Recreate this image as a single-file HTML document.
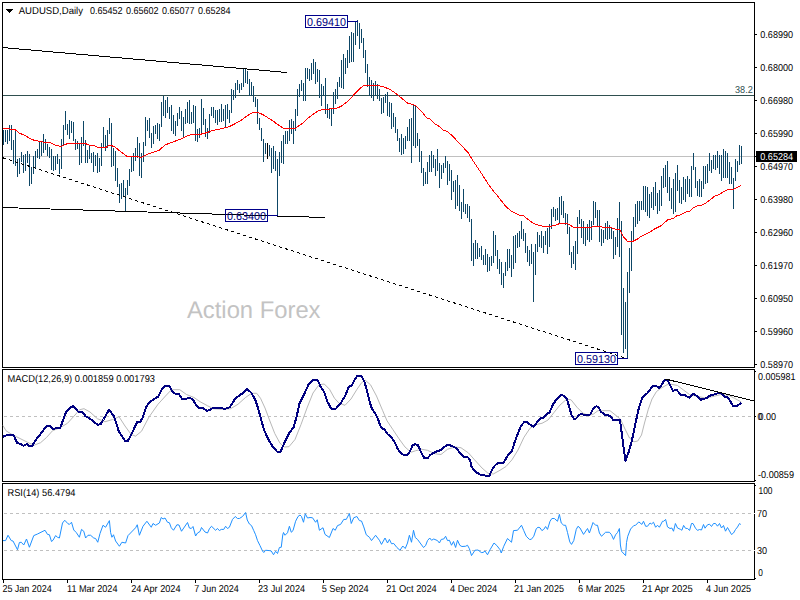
<!DOCTYPE html><html><head><meta charset="utf-8"><title>AUDUSD Daily</title>
<style>html,body{margin:0;padding:0;background:#fff}svg{display:block}text{font-family:"Liberation Sans",sans-serif;text-rendering:geometricPrecision}</style></head><body>
<svg width="800" height="600" viewBox="0 0 800 600">
<rect width="800" height="600" fill="#fff"/>
<text x="187" y="318" font-size="24" fill="#c3c3c3" text-anchor="start" textLength="133.5" lengthAdjust="spacingAndGlyphs">Action Forex</text>
<g shape-rendering="crispEdges" fill="none">
<path d="M3,156.5H754" stroke="#c0c0c0"/>
<path d="M3,95.5H754" stroke="#2f4f4f"/>
</g>
<text x="735" y="93" font-size="10" fill="#2f4f4f" text-anchor="start" textLength="17.8" lengthAdjust="spacingAndGlyphs">38.2</text>
<path d="M267.5,143V158.75" stroke="#000" stroke-width="1" fill="none" shape-rendering="crispEdges"/>
<path d="M3.5,130V144.5M5.5,130V142M7.5,129.5V143.75M9.5,125V141M11.5,125V150M13.5,140V163.75M15.5,130.6V165.6M17.5,158.75V177M19.5,158V173.75M21.5,152V162M23.5,155V173M25.5,154V170.6M27.5,151V162.5M29.5,154V185.6M31.5,167V183.75M33.5,156V173.75M35.5,151V168.75M37.5,149.4V157.5M39.5,140.6V159.4M41.5,141V155.6M43.5,134V152.5M45.5,139V150M47.5,143.75V156M49.5,147V157.5M51.5,149V170M53.5,156V170.6M55.5,155.6V169.75M57.5,154V163.75M59.5,158.75V173.75M61.5,139V168.75M63.5,125V146M65.5,111V130M67.5,124V135M69.5,120V138.75M71.5,121V132.5M73.5,122V141M75.5,139V150M77.5,141V149.4M79.5,144.4V164.75M81.5,137V162.5M83.5,121V146M85.5,140V162.5M87.5,150V162.5M89.5,146V159.4M91.5,153V162.5M93.5,152V172M95.5,155V165.6M97.5,153V172.5M99.5,158V172M101.5,143V165.6M103.5,127V147M105.5,135V150.6M107.5,130V147.5M109.5,118V133.75M111.5,123V167M113.5,148V165.6M115.5,151V180.6M117.5,168V187M119.5,183.75V202.5M121.5,183V199.4M123.5,180V197M125.5,188V211M127.5,180V195M129.5,169.4V185.6M131.5,157V172M133.5,153V170.6M135.5,148V160.6M137.5,137V158M139.5,143V175.6M141.5,153V177.5M143.5,142V161.5M145.5,117V145.6M147.5,120V131M149.5,118V137.5M151.5,133V147.5M153.5,126V144.4M155.5,125V134.4M157.5,123V138.75M159.5,123.75V140.6M161.5,102V127M163.5,95.6V115.6M165.5,100V117.5M167.5,97V113M169.5,107V118.75M171.5,105V130.6M173.5,115V134.4M175.5,121V135.6M177.5,113V126M179.5,107V119.4M181.5,111V130.6M183.5,117V137M185.5,108.75V124.4M187.5,102V123M189.5,100V123.75M191.5,112V124.4M193.5,105V123M195.5,106V140.6M197.5,129.4V141.5M199.5,128V137.5M201.5,99.4V134.4M203.5,108V125M205.5,119.4V137M207.5,127.5V138.75M209.5,114V133M211.5,107V115.6M213.5,107V118M215.5,110V122.5M217.5,110V124.75M219.5,109.4V121.9M221.5,104V121.9M223.5,109V121.25M225.5,105V127.5M227.5,104V118.75M229.5,110V123M231.5,89V112.5M233.5,90V100M235.5,83V97.5M237.5,80V90M239.5,84.4V93M241.5,83V90M243.5,68.5V87M245.5,68V83M247.5,70.6V83.75M249.5,79V95.6M251.5,82V95.6M253.5,86V102M255.5,97V107M257.5,99.4V123.75M259.5,118V130M261.5,127.5V140.6M263.5,139.4V162M265.5,143V154.4M269.5,145V156.25M271.5,147.5V172.5M273.5,146V169.4M275.5,150.6V170.6M277.5,159.4V215.5M279.5,152V175.6M281.5,141V162.5M283.5,135V163.75M285.5,131V144.4M287.5,131V144.4M289.5,120V140.6M291.5,119V134.4M293.5,121V143.75M295.5,109V130.6M297.5,89V115.6M299.5,84V97M301.5,80V90.6M303.5,83V101M305.5,68V100.6M307.5,68V78.75M309.5,68.75V80.6M311.5,63V80M313.5,59V73.75M315.5,62V83.75M317.5,69V82M319.5,70V97.5M321.5,84.4V105.6M323.5,86V96M325.5,78V113.75M327.5,104.4V117.5M329.5,108V119.4M331.5,108V126M333.5,92V114.4M335.5,89.4V103.75M337.5,82V99.4M339.5,77V87M341.5,60V87.5M343.5,54.4V88.75M345.5,58V73.75M347.5,50V67.5M349.5,36V62.5M351.5,32V62M353.5,33V62M355.5,22V45M357.5,20V35.6M359.5,23V49.4M361.5,29.4V42.5M363.5,38V57.5M365.5,50V72.5M367.5,64V87M369.5,77V95.6M371.5,80V97.5M373.5,83V100.6M375.5,81V95.6M377.5,84V99.4M379.5,88.75V101.25M381.5,98V114.4M383.5,97V113M385.5,93.75V102.5M387.5,92V115.6M389.5,102V117M391.5,103V128.75M393.5,113V127M395.5,117V132.5M397.5,129.4V140.6M399.5,138V152M401.5,133.75V155M403.5,138V153.75M405.5,136V148.75M407.5,127V141M409.5,119V140.6M411.5,118V162.5M413.5,104V145.6M415.5,106V148M417.5,133V145.6M419.5,139V162M421.5,151V172.5M423.5,167.5V185.6M425.5,172V184.4M427.5,162V183.75M429.5,155V171.5M431.5,151V171.5M433.5,155V168M435.5,158.75V175.6M437.5,149V170.6M439.5,163V187.5M441.5,165V179.4M443.5,163V173M445.5,156V167.5M447.5,161V184.75M449.5,164V180.6M451.5,170V199.75M453.5,181V191.5M455.5,180V208.5M457.5,175V205.6M459.5,185V210.6M461.5,202V219.4M463.5,189V211.9M465.5,204V214.4M467.5,204V217.5M469.5,206V221.9M471.5,219.4V260.6M473.5,243V265.6M475.5,240V259.4M477.5,243V258.75M479.5,248V257M481.5,246V259.75M483.5,255V264.75M485.5,249V265M487.5,254V271.9M489.5,257V270.6M491.5,255.6V265.6M493.5,231V262.5M495.5,235V255.6M497.5,250V268.75M499.5,258.75V273.75M501.5,262V284.75M503.5,273V287.5M505.5,262V275.6M507.5,249V270.6M509.5,249V267.5M511.5,255V276.9M513.5,236V268.75M515.5,235V262.5M517.5,233V247.75M519.5,231V246.5M521.5,221V238.5M523.5,229V240.6M525.5,233V252.5M527.5,246V261.9M529.5,250V265.6M531.5,244V263.5M533.5,252V301.5M535.5,244V274.75M537.5,232V252M539.5,235V246.9M541.5,231V248M543.5,236V252.5M545.5,231V245M547.5,228V253.75M549.5,224V246.9M551.5,209V228.75M553.5,207V216.9M555.5,209V220.6M557.5,208V220M559.5,197V223M561.5,196V215M563.5,201V217.5M565.5,213V225M567.5,214V233.75M569.5,227V254.75M571.5,252V267.75M573.5,246V263.5M575.5,241V269.75M577.5,217V253.75M579.5,210V224.4M581.5,219V237.5M583.5,221V243.75M585.5,227V245.6M587.5,224V240M589.5,220V241.9M591.5,221V240M593.5,201V225M595.5,202V217.5M597.5,210V225.6M599.5,210V241.9M601.5,229V245.6M603.5,230V242.5M605.5,223V238.75M607.5,221V239.75M609.5,225V239M611.5,227V238.5M613.5,231V258.75M615.5,237V254.75M617.5,218V246.9M619.5,202V256.9M621.5,221V334.8M623.5,288V352.5M625.5,302V348.7M627.5,272V358M629.5,247.75V292.8M631.5,231V270.8M633.5,217V240M635.5,204V226.9M637.5,201V224.4M639.5,201V220.6M641.5,201V209.75M643.5,186V209.75M645.5,186V211.9M647.5,187V215.6M649.5,194V217.75M651.5,192V207.5M653.5,187V209.75M655.5,182V206M657.5,193V213.75M659.5,190V210.6M661.5,176V206.25M663.5,168V187.5M665.5,165V186.9M667.5,161V192.5M669.5,177V200.6M671.5,188V208.75M673.5,179V213.75M675.5,173V211.5M677.5,165V191.25M679.5,180V202.5M681.5,187V203.75M683.5,177V199.75M685.5,179V201.5M687.5,176V193.75M689.5,179V196.5M691.5,166V196.5M693.5,153V170M695.5,167V187.5M697.5,181V195.6M699.5,179V196.5M701.5,181V196.9M703.5,166V188.5M705.5,166V183.75M707.5,164V182.5M709.5,153V170.6M711.5,160V172.75M713.5,155V169M715.5,155V170M717.5,151V167.5M719.5,155V173.75M721.5,155V180.6M723.5,149V177.5M725.5,151V177.5M727.5,153V177.5M729.5,162V183.75M731.5,167V183.7M733.5,178V208.6M735.5,159V180.6M737.5,161V171.7M739.5,145V164.6M741.5,146V163.7" stroke="#0d4666" stroke-width="1" fill="none" shape-rendering="crispEdges"/>
<polyline points="3.5,128.5 15,129.4 18.75,132.75 25,135.6 32.5,139.75 38.75,141.25 43.75,142.25 50,142.5 55,145 61.25,146.5 65,144.4 68.75,143.4 75,143.4 85,143.5 90,145.25 93.75,145.25 97.5,147.25 100,147.5 105.6,147.5 109.4,145.25 114.4,146.5 120,151.25 126.9,156.25 137.5,156.5 141.25,157.5 146.25,154.75 152.5,152.5 158.75,150.6 165,145 171.25,142.5 180,139.4 187.5,135.6 193,134.4 200,134.4 205.6,133 212.5,130.6 221.25,128.75 228.75,126.9 235,123.75 242.5,119.4 247.5,115.6 252.5,112.5 258,112.5 262.5,114.4 267.5,117.5 272.5,120.6 277.5,124.4 283,128 287.5,128.75 295,128.5 300,125 303,123 308.75,117.5 313.75,113.75 317.5,111.25 322.5,109.4 330,109 336.25,108.5 341.25,106.25 346.25,102.5 352.5,96.25 358,90.6 362.5,86.25 365,85.25 376.25,85.25 383.75,86.9 390,89.4 396.25,93.75 400,96.9 407.5,103 415.6,105.6 421.9,111.9 426.9,118 430,119 435,124 440,126.9 443,130 446.9,131.25 451.25,134.75 456.25,140 461.25,145 465,149.4 468.75,153.5 471.5,158.5 477.5,167.5 482.5,175 487.5,183 492.5,190 496.9,195 500,199 505,205.6 511.25,211.25 518.75,215 523.75,216 528.75,220 533.75,223.75 542.5,226.25 550,226.5 555,225.25 561.25,223 567.5,223.5 573.75,227.5 590,227.5 595,226.25 600,226.5 603.75,227.5 611.25,227.5 613.75,228.75 620,229.75 623,236.25 627.5,241.25 633,241.25 637.5,239 641.25,236.25 650,231.9 655,228.75 661.25,225.6 667.5,220 673.75,218 676.9,215.6 680,215 686.25,211.9 690,211 693,208 698,205.5 701.25,205.25 705,203.5 710,200 714,196.6 720,194 723.5,191.6 728.7,189.4 734,189 741,185.4" stroke="#ff0000" stroke-width="1" fill="none" shape-rendering="crispEdges"/>
<g shape-rendering="crispEdges" fill="none" stroke="#000">
<path d="M2,47.5L287,72.5"/>
<path d="M2,207.5L325,217.5"/>
<path d="M2,157.5L627,358.5" stroke-dasharray="3.15 3.15" stroke-dashoffset="-1.05"/>
</g>
<g shape-rendering="crispEdges"><rect x="305.5" y="15.5" width="42" height="12" fill="none" stroke="#00008b"/>
<path d="M348,21.5H358" stroke="#00008b"/></g>
<text x="307" y="25.6" font-size="11.4" fill="#000080" text-anchor="start" textLength="39" lengthAdjust="spacingAndGlyphs">0.69410</text>
<g shape-rendering="crispEdges"><rect x="225.5" y="209.5" width="42" height="12" fill="none" stroke="#00008b"/>
<path d="M268,215.5H278" stroke="#00008b"/></g>
<text x="227" y="219.6" font-size="11.4" fill="#000080" text-anchor="start" textLength="39" lengthAdjust="spacingAndGlyphs">0.63400</text>
<g shape-rendering="crispEdges"><rect x="575.5" y="352.5" width="42" height="12" fill="none" stroke="#00008b"/>
<path d="M618,358.5H628" stroke="#00008b"/></g>
<text x="577" y="362.6" font-size="11.4" fill="#000080" text-anchor="start" textLength="39" lengthAdjust="spacingAndGlyphs">0.59130</text>
<g shape-rendering="crispEdges" fill="none" stroke="#000">
<rect x="2.5" y="2.5" width="752" height="365"/><rect x="2.5" y="369.5" width="752" height="112"/><rect x="2.5" y="483.5" width="752" height="96"/>
<path d="M755,34.5h2M755,67.5h2M755,100.5h2M755,133.5h2M755,166.5h2M755,199.5h2M755,232.5h2M755,265.5h2M755,298.5h2M755,331.5h2M755,364.5h2M755,371.5h1M755,416.5h1M755,480.5h1M755,485.5h1M755,578.5h1M755,156.5h1M3.5,580v3M67.5,580v3M131.5,580v3M195.5,580v3M259.5,580v3M323.5,580v3M387.5,580v3M451.5,580v3M515.5,580v3M579.5,580v3M643.5,580v3M707.5,580v3"/>
</g>
<path d="M6,9h7l-3.5,4z" fill="#000" shape-rendering="crispEdges"/>
<text x="18.7" y="14" font-size="10" fill="#000" text-anchor="start" textLength="64.3" lengthAdjust="spacingAndGlyphs">AUDUSD,Daily</text>
<text x="90" y="14" font-size="10" fill="#000" text-anchor="start" textLength="32.6" lengthAdjust="spacingAndGlyphs">0.65452</text>
<text x="126" y="14" font-size="10" fill="#000" text-anchor="start" textLength="32.6" lengthAdjust="spacingAndGlyphs">0.65602</text>
<text x="162" y="14" font-size="10" fill="#000" text-anchor="start" textLength="32.6" lengthAdjust="spacingAndGlyphs">0.65077</text>
<text x="198" y="14" font-size="10" fill="#000" text-anchor="start" textLength="32.6" lengthAdjust="spacingAndGlyphs">0.65284</text>
<text x="760.3" y="38" font-size="10" fill="#000" text-anchor="start" textLength="32.8" lengthAdjust="spacingAndGlyphs">0.68990</text>
<text x="760.3" y="71" font-size="10" fill="#000" text-anchor="start" textLength="32.8" lengthAdjust="spacingAndGlyphs">0.68000</text>
<text x="760.3" y="104" font-size="10" fill="#000" text-anchor="start" textLength="32.8" lengthAdjust="spacingAndGlyphs">0.66980</text>
<text x="760.3" y="137" font-size="10" fill="#000" text-anchor="start" textLength="32.8" lengthAdjust="spacingAndGlyphs">0.65990</text>
<text x="760.3" y="170" font-size="10" fill="#000" text-anchor="start" textLength="32.8" lengthAdjust="spacingAndGlyphs">0.64970</text>
<text x="760.3" y="203" font-size="10" fill="#000" text-anchor="start" textLength="32.8" lengthAdjust="spacingAndGlyphs">0.63980</text>
<text x="760.3" y="236" font-size="10" fill="#000" text-anchor="start" textLength="32.8" lengthAdjust="spacingAndGlyphs">0.62960</text>
<text x="760.3" y="269" font-size="10" fill="#000" text-anchor="start" textLength="32.8" lengthAdjust="spacingAndGlyphs">0.61970</text>
<text x="760.3" y="302" font-size="10" fill="#000" text-anchor="start" textLength="32.8" lengthAdjust="spacingAndGlyphs">0.60950</text>
<text x="760.3" y="335" font-size="10" fill="#000" text-anchor="start" textLength="32.8" lengthAdjust="spacingAndGlyphs">0.59960</text>
<text x="760.3" y="368" font-size="10" fill="#000" text-anchor="start" textLength="32.8" lengthAdjust="spacingAndGlyphs">0.58970</text>
<rect x="756" y="151" width="41" height="11" fill="#000" shape-rendering="crispEdges"/>
<text x="760.3" y="160" font-size="10" fill="#fff" text-anchor="start" textLength="32.8" lengthAdjust="spacingAndGlyphs">0.65284</text>
<path d="M4,416.5H754" stroke="#c0c0c0" stroke-dasharray="3 3" shape-rendering="crispEdges"/>
<polyline points="3,425.5 6,430.75 12,434.5 21,439 30,443.5 34.5,445 40.5,442.75 46.5,437.5 52.5,430.75 60,427.75 67.5,423.25 75,415 79.5,409.75 84,408.7 90,412 97.5,418.75 105,421.75 112.5,419.5 119,416.7 125,426 131,434.25 135.5,436.2 141.5,431.25 149,417 158,404.25 165.5,396 171.5,389.7 179.75,389.7 186.5,394.5 194,397.5 200,401.7 207.5,405.75 213.5,408.75 221,409.2 230.5,408.75 238,404.25 245.5,397.5 251.5,393.3 256.75,393.3 260.5,398.25 265,408 269.5,420 274.75,433.5 280,443.25 284.5,447 289,446.7 295,439.5 301,424.5 307,408 313,393 319,384.75 324.25,384 329.5,389.25 334.5,398.25 339,403.2 345,405.3 351,399 357,389.25 361.5,382.8 365.25,380.25 370.5,384.75 376.5,396 382.5,410.25 387,420.75 393,429.75 399,438.75 405,447 411,452.25 415.5,450.75 421.5,449.25 427.5,450.3 435,453.75 441,454.5 447.5,449.25 455,447 461,447.75 468.5,453 474.5,459.75 482,468 488,473.25 493.25,474 500,470.25 506,466.5 512,459.75 518,450 524,437.25 530,428.25 536,424.5 542,423.3 548,420 554,412.5 560,405 566.5,399.3 571,399.75 577,407.25 583,413.25 589,415.5 593.5,414 598,410.7 610,410.7 616,415.5 620.5,419.25 625,429 629.5,438 634,441.75 637.75,441 641.5,435 644.5,423 648.25,409.5 652,399 656.5,391.5 661,388.2 667,384.75 670,384 677.5,385.5 683.5,390 689.5,394.5 697,396.3 704.5,397.8 712,396.75 721,394.5 728.5,395.25 734.5,398.25 741.25,402" stroke="#b8b8b8" stroke-width="1" fill="none"/>
<polyline points="3,436.75 8.25,434.5 13.5,434.8 17.25,443.2 21,443.8 23.25,445.75 27,444 30,446.5 32.25,445.75 37.5,437.5 42,432.25 45.75,426.7 49.5,425.8 53.25,429 57,428 60,428.5 63,420.25 66,412 69.75,408.25 73,406 78.75,412.3 82.5,412 85.5,416.2 90,418.75 97.5,424.75 100.5,424.3 103.5,419.5 109,409.75 114,416.5 117,425.5 119,432 125,440.7 128,440.7 132.5,432 137,422.25 140,422.25 143,417 146,407.25 149,402.75 153.5,399.3 158,396.75 161.75,389.7 165.5,385.5 169.25,385.5 172.25,391.5 175.25,393.75 179,394.2 182,398.7 186.5,398.7 188,397.8 192.5,399 197,406.5 200,408.5 203,408 206.75,410.7 209.75,410.25 212.75,408 219.5,408 225.25,408.75 229.75,407.25 235,399 239.5,395.25 243.25,393 247,388.8 251.5,393 255.25,399.75 258.25,408.75 261.25,420 264.25,430.5 268,438.75 272.5,446.25 277,451.5 280.75,451.5 284.5,442.5 289,433.5 293.5,427.5 296.5,417 299.5,403.5 304,394.5 308.5,384.75 313,379.8 317.5,379.8 320.5,386.25 324.25,392.25 327.25,401.25 331,408.5 336,408.5 340.5,403.5 345,396 348.75,387 351.75,385.5 354.75,379.5 357,376.2 361.5,376.2 364.5,381.75 367.5,393 371.25,407.25 375,413.25 378,419.25 381,427.5 384.75,429.75 387.75,434.25 390.75,436.5 394.5,441.75 397.5,448.5 401.25,453.75 404.25,455.25 407.25,455.25 410.25,450.75 412.5,445.5 414.75,444.3 417.75,444.75 421.5,453 424.5,458.25 427.5,458.25 430.5,454.8 435,452.25 438,450.75 441,450.3 443,447.75 446.75,445.2 450.5,445.5 454.25,447 457.25,449.25 460.25,453.75 464,456.75 467.75,457.2 470,459.75 471.5,466.5 474.5,471 479.75,474.5 485,475.5 489.5,475.5 491.75,470.25 494.75,465.75 497.75,463 503,463.5 507.5,456 512,450.75 514.25,443.25 517.25,435 521,426 524,422.25 527,422.25 530,424.5 533.75,426.75 537.5,421.5 540.5,418.5 543.5,417.5 546.5,414 549.5,412.5 553,404.5 556.75,399 560.5,395.25 564.25,395.7 567.25,399.75 569.5,408 571.75,415.5 574,418.8 576.25,418.5 579.25,414.75 581.5,414 586,415.5 590.5,414.3 593.5,408 596.5,406.2 598.75,407.25 601,411.75 604.75,414.75 610,415.8 613,419.7 619,419.7 620,420 622.75,441 625.5,461 629,451 632,440 635.5,423 638.5,409.5 642.25,397.5 647.5,393 652.75,386.25 656.5,386.25 659.5,388.2 664.75,379.8 667.75,380.25 670.75,386.25 673,390.75 676.75,390 680.5,394.5 685,395.25 689.5,397.8 693.25,393.75 696.25,395.7 700.75,399.75 703.75,398.7 706.75,398.25 709.75,395.7 715,394.2 718.75,393 721.75,393.75 724.75,396.75 727.75,397.5 730.75,402 733,405.75 737.5,405.75 741.25,402.75" stroke="#000080" stroke-width="2" fill="none" stroke-linejoin="round" shape-rendering="crispEdges"/>
<path d="M665.5,379L754,401" stroke="#000" shape-rendering="crispEdges"/>
<text x="7.5" y="382" font-size="10" fill="#000" text-anchor="start" textLength="147.5" lengthAdjust="spacingAndGlyphs">MACD(12,26,9) 0.001859 0.001793</text>
<text x="758" y="380" font-size="10" fill="#000" text-anchor="start" textLength="37.5" lengthAdjust="spacingAndGlyphs">0.005981</text>
<text x="758.4" y="420" font-size="10" fill="#000" text-anchor="start" textLength="17.6" lengthAdjust="spacingAndGlyphs">0.00</text>
<text x="757.4" y="420" font-size="10" fill="#000" text-anchor="start" textLength="4.6" lengthAdjust="spacingAndGlyphs">0</text>
<text x="758" y="478" font-size="10" fill="#000" text-anchor="start" textLength="36" lengthAdjust="spacingAndGlyphs">-0.00859</text>
<path d="M4,513.5H752M4,550.5H752" stroke="#c0c0c0" stroke-dasharray="3 3" shape-rendering="crispEdges" fill="none"/>
<path d="M754,513.5h1M754,550.5h1" stroke="#e8e8e8" shape-rendering="crispEdges" fill="none"/>
<polyline points="3,540.6 5.6,540.6 8,535.25 11.25,540.6 13,541 17.5,549.75 19.4,542.5 21.25,542.25 23.75,545 26.5,539 29.4,547.25 33.75,535.6 37.5,534 45,530.25 47.5,534.4 49.4,534.75 51.5,541.5 53,540.25 55.6,535.6 57.5,537.25 59.4,538 62.5,523 64.75,520.25 68,523.75 69.4,524.4 71.5,522.25 73.75,530 76.25,532.5 79.4,537.25 81.5,529.4 83.75,531.25 85.6,538 88,535.25 90.6,535.25 93.75,538 95.6,538.5 97.75,542.25 100,533.5 103,525.25 105.6,527.25 109.4,520.6 110.6,532.5 111.9,537.25 113.5,534.75 115.6,541 119.4,546.25 121.9,542.25 125.6,543 128,535.6 135.6,527.75 137.25,524.75 139.4,535.25 143,526.25 146.9,521.25 151.25,527.25 153,523.5 155.6,525.25 159.4,523 161.25,517.5 163,519 165,518 167.5,522.25 169.4,522.75 171.25,527.75 173.5,530.25 176.9,524.75 179,525 181.5,531.25 187.5,522.5 189.4,528 191.25,528.5 193,526.5 195.6,536 197.5,533 200,531.5 201.5,527.5 205,532 207.5,533 209.4,528.75 211.5,526.25 215.6,530.25 217.5,528.5 219.4,530.6 221.25,529.4 223.75,529.4 225.6,526.25 227.5,528.5 229.4,527.25 232.5,519.4 235.25,516.5 237.5,518.5 239.4,518.5 242.5,516.5 245.6,512.5 247.25,520 249.4,524 251.5,525.6 253.75,530.6 255.6,534.75 257.5,540.6 260,545.6 262.5,551 263.75,552.5 265.6,550.25 269.4,550.6 271.25,551 273.5,554.75 275.6,551.25 277.5,553.5 279.4,547.5 281.25,547.25 282.75,535 283.5,532.5 285,535.25 287.5,532.75 289.4,526.25 291.25,532.25 293,530.6 295.6,521.25 298,516.5 300,515 301.5,516.5 303.5,522.25 305.25,513.75 307.5,518 310,517.5 312.5,517.75 315.6,522.25 317.25,519.75 319.4,530.25 323,527.75 325,534.4 329.4,537.5 333,528.5 335.25,530.25 337.5,525.6 340.6,524.4 343.75,519.4 346.25,519.4 349.4,513.5 351.25,523.5 353.75,517.75 356.9,516.5 359.4,520.6 361.5,521 363.75,526.9 366.25,534.75 369.4,537.25 371.5,540.6 375.6,535.25 379.4,540.25 381.5,544.4 385,538 387.5,543 389.4,539.4 391.5,543.75 393.75,543.5 396.9,547.5 400,550.3 402.75,546 405.25,548.5 407.5,543 409.4,535.25 411.5,542.25 413.5,530.25 415.25,537.5 417.5,539.4 423.5,547.5 425.6,545.6 427.5,540.6 429.75,538 431.5,540.25 433.75,539 437.5,540.6 439.4,543 441.25,539.4 443.75,539 445.6,536.25 447.5,540.6 449.4,540.25 451.5,545.25 453.5,541.5 455.6,547.5 457.5,540.25 459.75,545.25 461.9,546.5 465.6,546.25 467.5,545.25 469.4,548.75 471.5,555.6 475,550.25 478,550 481.25,552.5 483,552.5 485,551 487.5,554.75 490,549.75 494,543 496.9,545.6 500,549.7 501.25,553 503.75,546.25 507.5,538.5 511.5,542.25 513.5,530.6 517.5,530.25 521.5,525.25 523.75,530.6 526.25,536.25 529.4,539.4 531.25,539.4 533.75,536.25 536.25,528.75 538,527.25 540,527.75 541.9,530.6 543.75,529.4 545.6,526.5 547.5,529.4 550,521.25 551.9,518.5 554.4,518.5 557.5,521.25 559.4,514.4 561.25,523 563.75,525.25 565.6,525.25 567.5,532.5 569.75,541.9 571.5,544.4 573.75,540.6 576.25,529.4 578,526.25 580,528 583.5,534.4 587.5,528.5 589.4,533 593,522.5 595.6,525.25 597.5,525.25 599.4,533 601.5,536.25 605.6,532.25 609.4,532.25 611.5,534.75 613.5,539.4 615.6,534.75 617.5,532.5 619.4,528.5 620.4,545 621.5,551.25 625.6,555.6 626.5,542.5 627.75,536.25 630.6,529 633.75,525.6 635.6,525.25 638.75,521.9 641.9,524.4 643.5,521.25 645.6,526.25 647.5,526.25 650,523 651.5,524 653.5,522.25 655.6,527.25 657.5,525.25 659.4,527.25 662.5,521.25 663.75,521.25 665.6,519.4 667.5,526.9 670,528.5 671.9,528 673.5,531.25 675.4,523.5 677.5,528 680.6,529.4 681.9,530.25 683.6,525.4 685.5,528.3 687.5,528.5 689.6,530.4 691.5,523.5 693,523.5 695.5,528.2 697.5,530.4 699.5,529.5 701.5,530 703.5,524.5 705,528.2 707.5,524.8 709.5,524.2 711.5,526.5 713.5,523.5 715.5,523.5 717.5,526.2 719.5,523.5 721.5,528 723.5,525.5 725.5,531.2 727.5,527.5 729.5,531 731.5,534.5 733.5,533 735.5,529.5 737.5,527 739.5,523.5 740.8,524.5" stroke="#1e90ff" stroke-width="1" fill="none"/>
<text x="7.5" y="496" font-size="10" fill="#000" text-anchor="start" textLength="68" lengthAdjust="spacingAndGlyphs">RSI(14) 56.4794</text>
<text x="758.5" y="494" font-size="10" fill="#000" text-anchor="start" textLength="14" lengthAdjust="spacingAndGlyphs">100</text>
<text x="756.9" y="517" font-size="10" fill="#000" text-anchor="start" textLength="10.1" lengthAdjust="spacingAndGlyphs">70</text>
<text x="756.9" y="554" font-size="10" fill="#000" text-anchor="start" textLength="10.1" lengthAdjust="spacingAndGlyphs">30</text>
<text x="758.3" y="576" font-size="10" fill="#000" text-anchor="start" textLength="4.6" lengthAdjust="spacingAndGlyphs">0</text>
<text x="2.4" y="592" font-size="10" fill="#000" text-anchor="start" textLength="49.4" lengthAdjust="spacingAndGlyphs">25 Jan 2024</text>
<text x="67" y="592" font-size="10" fill="#000" text-anchor="start" textLength="50.5" lengthAdjust="spacingAndGlyphs">11 Mar 2024</text>
<text x="131.2" y="592" font-size="10" fill="#000" text-anchor="start" textLength="49.3" lengthAdjust="spacingAndGlyphs">24 Apr 2024</text>
<text x="194.3" y="592" font-size="10" fill="#000" text-anchor="start" textLength="44.6" lengthAdjust="spacingAndGlyphs">7 Jun 2024</text>
<text x="258" y="592" font-size="10" fill="#000" text-anchor="start" textLength="47" lengthAdjust="spacingAndGlyphs">23 Jul 2024</text>
<text x="321.7" y="592" font-size="10" fill="#000" text-anchor="start" textLength="47" lengthAdjust="spacingAndGlyphs">5 Sep 2024</text>
<text x="386.2" y="592" font-size="10" fill="#000" text-anchor="start" textLength="50.6" lengthAdjust="spacingAndGlyphs">21 Oct 2024</text>
<text x="450" y="592" font-size="10" fill="#000" text-anchor="start" textLength="47.2" lengthAdjust="spacingAndGlyphs">4 Dec 2024</text>
<text x="514" y="592" font-size="10" fill="#000" text-anchor="start" textLength="50" lengthAdjust="spacingAndGlyphs">21 Jan 2025</text>
<text x="578" y="592" font-size="10" fill="#000" text-anchor="start" textLength="46.8" lengthAdjust="spacingAndGlyphs">6 Mar 2025</text>
<text x="642" y="592" font-size="10" fill="#000" text-anchor="start" textLength="50.8" lengthAdjust="spacingAndGlyphs">21 Apr 2025</text>
<text x="706" y="592" font-size="10" fill="#000" text-anchor="start" textLength="45.2" lengthAdjust="spacingAndGlyphs">4 Jun 2025</text>
</svg></body></html>
